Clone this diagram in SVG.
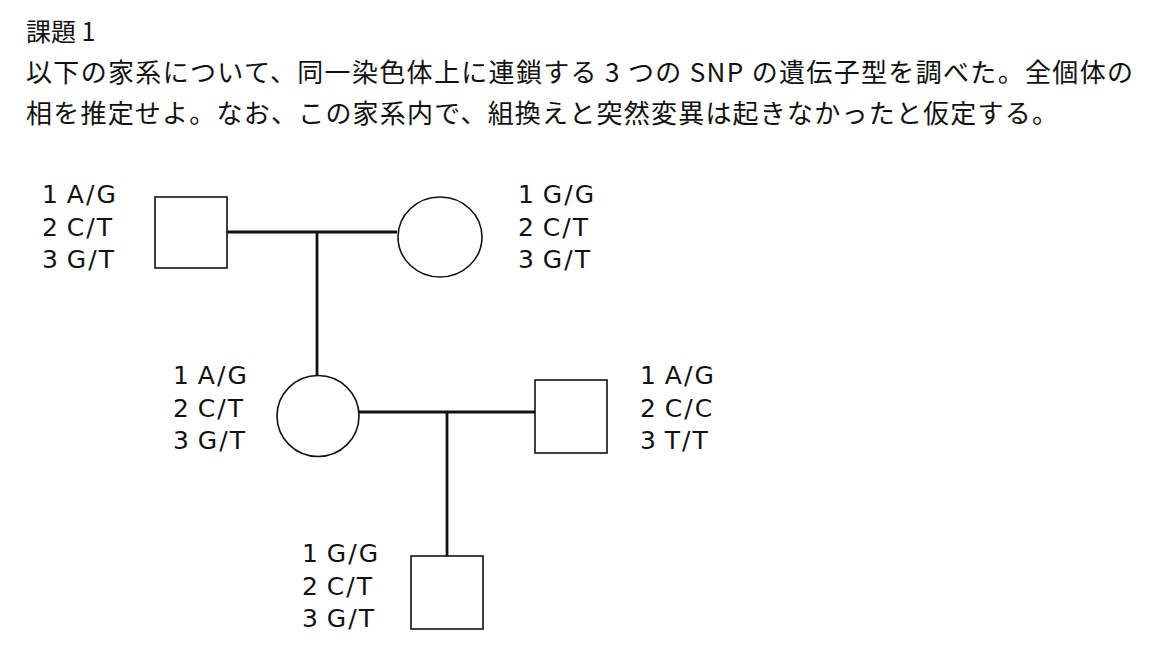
<svg xmlns="http://www.w3.org/2000/svg" width="1158" height="672" viewBox="0 0 1158 672">
<style>
.jp{font-family:"Noto Sans CJK JP","Noto Sans CJK SC",sans-serif;fill:#111;}
.lb{font-family:"DejaVu Sans",Verdana,sans-serif;font-size:25px;letter-spacing:2px;word-spacing:-3px;fill:#111;}
.shape{fill:#fff;stroke:#111;stroke-width:1.6;}
.conn{stroke:#111;stroke-width:2.8;fill:none;}
</style>
<rect width="1158" height="672" fill="#fff"/>
<g id="heading">
<text class="jp" x="26" y="41" font-size="25">課題 1</text>
<text class="jp" x="26" y="82" font-size="26" textLength="1107" lengthAdjust="spacing">以下の家系について、同一染色体上に連鎖する 3 つの SNP の遺伝子型を調べた。全個体の</text>
<text class="jp" x="26" y="123" font-size="26" textLength="1032" lengthAdjust="spacing">相を推定せよ。なお、この家系内で、組換えと突然変異は起きなかったと仮定する。</text>
</g>
<g id="connectors">
<line class="conn" x1="227" y1="232" x2="397" y2="232"/>
<line class="conn" x1="317" y1="232" x2="317" y2="376"/>
<line class="conn" x1="359" y1="412" x2="535" y2="412"/>
<line class="conn" x1="447" y1="412" x2="447" y2="556"/>
</g>
<g id="father">
<rect class="shape" x="155" y="197" width="72" height="71"/>
<text class="lb" x="42" y="203">1 A/G</text>
<text class="lb" x="42" y="236">2 C/T</text>
<text class="lb" x="42" y="268">3 G/T</text>
</g>
<g id="mother">
<ellipse class="shape" cx="440" cy="237" rx="42" ry="40"/>
<text class="lb" x="518" y="203">1 G/G</text>
<text class="lb" x="518" y="236">2 C/T</text>
<text class="lb" x="518" y="268">3 G/T</text>
</g>
<g id="daughter">
<ellipse class="shape" cx="318" cy="416" rx="41" ry="40.5"/>
<text class="lb" x="173" y="384">1 A/G</text>
<text class="lb" x="173" y="417">2 C/T</text>
<text class="lb" x="173" y="449">3 G/T</text>
</g>
<g id="husband">
<rect class="shape" x="535" y="380" width="72" height="73"/>
<text class="lb" x="640" y="384">1 A/G</text>
<text class="lb" x="640" y="417">2 C/C</text>
<text class="lb" x="640" y="449">3 T/T</text>
</g>
<g id="child">
<rect class="shape" x="411" y="556" width="72" height="73"/>
<text class="lb" x="302" y="562">1 G/G</text>
<text class="lb" x="302" y="595">2 C/T</text>
<text class="lb" x="302" y="627">3 G/T</text>
</g>
</svg>
